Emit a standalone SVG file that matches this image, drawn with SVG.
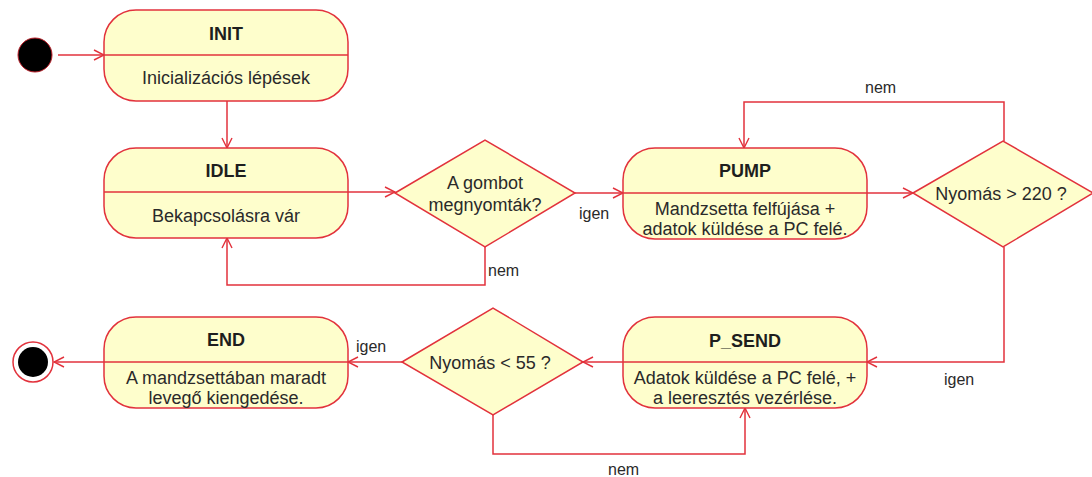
<svg xmlns="http://www.w3.org/2000/svg" width="1092" height="477" viewBox="0 0 1092 477">
  <defs>
    <marker id="arrow" viewBox="0 0 12 12" refX="11" refY="6" markerWidth="12" markerHeight="12" markerUnits="userSpaceOnUse" orient="auto">
      <path d="M1,1 L11,6 L1,11" fill="none" stroke="#e2323c" stroke-width="1.4"/>
    </marker>
  </defs>
  <style>
    .state { fill: #fefecc; stroke: #e2323c; stroke-width: 1.5; }
    .sep { stroke: #e2323c; stroke-width: 1.5; }
    .choice { fill: #fefecc; stroke: #e2323c; stroke-width: 1.5; }
    .edge { fill: none; stroke: #e2323c; stroke-width: 1.5; marker-end: url(#arrow); }
    .title { font-family: "Liberation Sans", Arial, sans-serif; font-size: 18px; font-weight: bold; fill: #1e1e1e; text-anchor: middle; }
    .body { font-family: "Liberation Sans", Arial, sans-serif; font-size: 18px; fill: #2a2a2a; text-anchor: middle; }
    .label { font-family: "Liberation Sans", Arial, sans-serif; font-size: 16px; fill: #2a2a2a; }
  </style>
  <rect width="1092" height="477" fill="#ffffff"/>

  <!-- start / end pseudo-states -->
  <g id="start">
    <circle cx="35" cy="55" r="17" fill="#000000" stroke="#c0202a" stroke-width="1"/>
  </g>
  <g id="final">
    <circle cx="33" cy="362" r="20" fill="#ffffff" stroke="#e2323c" stroke-width="1.5"/>
    <circle cx="33" cy="362" r="15" fill="#000000"/>
  </g>

  <!-- connectors -->
  <g id="connectors">
    <path class="edge" d="M58,55 H104"/>
    <path class="edge" d="M227,101 V148"/>
    <path class="edge" d="M348,192 H395"/>
    <path class="edge" d="M485,247 V285 H227 V238"/>
    <path class="edge" d="M575,193 H623"/>
    <path class="edge" d="M867,193 H913"/>
    <path class="edge" d="M1004,141 V102 H744 V148"/>
    <path class="edge" d="M1004,247 V362 H867"/>
    <path class="edge" d="M623,362 H583"/>
    <path class="edge" d="M493,415 V454 H745 V408"/>
    <path class="edge" d="M402,362 H348"/>
    <path class="edge" d="M104,362 H54"/>
    <text class="label" x="579" y="219">igen</text>
    <text class="label" x="488" y="276">nem</text>
    <text class="label" x="865" y="93">nem</text>
    <text class="label" x="944" y="385">igen</text>
    <text class="label" x="356" y="352">igen</text>
    <text class="label" x="608" y="475">nem</text>
  </g>

  <g id="INIT">
    <rect class="state" x="104" y="10" width="244" height="91" rx="32" ry="32"/>
    <line class="sep" x1="104" y1="55" x2="348" y2="55"/>
    <text class="title" x="226" y="40">INIT</text>
    <text class="body" x="226" y="84">Inicializációs lépések</text>
  </g>

  <g id="IDLE">
    <rect class="state" x="104" y="148" width="244" height="90" rx="32" ry="32"/>
    <line class="sep" x1="104" y1="192" x2="348" y2="192"/>
    <text class="title" x="226" y="177">IDLE</text>
    <text class="body" x="226" y="222">Bekapcsolásra vár</text>
  </g>

  <g id="BUTTON">
    <polygon class="choice" points="395,193 485,140 575,193 485,247"/>
    <text class="body" x="485" y="189">A gombot</text>
    <text class="body" x="485" y="211">megnyomták?</text>
  </g>

  <g id="PUMP">
    <rect class="state" x="623" y="148" width="244" height="91" rx="32" ry="32"/>
    <line class="sep" x1="623" y1="193" x2="867" y2="193"/>
    <text class="title" x="745" y="177">PUMP</text>
    <text class="body" x="745" y="215">Mandzsetta felfújása +</text>
    <text class="body" x="745" y="235">adatok küldése a PC felé.</text>
  </g>

  <g id="CHECK_HIGH">
    <polygon class="choice" points="913,193 1003,141 1093,193 1003,247"/>
    <text class="body" x="1001" y="200">Nyomás &gt; 220 ?</text>
  </g>

  <g id="P_SEND">
    <rect class="state" x="623" y="317" width="244" height="91" rx="32" ry="32"/>
    <line class="sep" x1="623" y1="362" x2="867" y2="362"/>
    <text class="title" x="745" y="347">P_SEND</text>
    <text class="body" x="745" y="384">Adatok küldése a PC felé, +</text>
    <text class="body" x="745" y="404">a leeresztés vezérlése.</text>
  </g>

  <g id="CHECK_LOW">
    <polygon class="choice" points="402,362 493,308 583,362 493,415"/>
    <text class="body" x="490" y="369">Nyomás &lt; 55 ?</text>
  </g>

  <g id="END">
    <rect class="state" x="104" y="317" width="244" height="91" rx="32" ry="32"/>
    <line class="sep" x1="104" y1="362" x2="348" y2="362"/>
    <text class="title" x="226" y="346">END</text>
    <text class="body" x="226" y="384">A mandzsettában maradt</text>
    <text class="body" x="226" y="404">levegő kiengedése.</text>
  </g>
</svg>
